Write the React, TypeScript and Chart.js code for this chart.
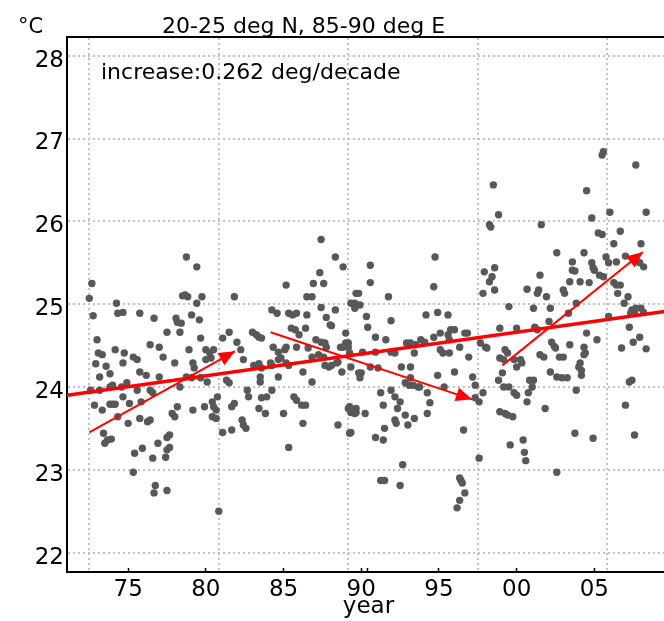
import React, { useEffect, useRef } from 'react';
import { Chart, registerables } from 'chart.js';
Chart.register(...registerables);

const FONT = "'DejaVu Sans'";
const UNIT_TEXT = '°C';
const TITLE_TEXT = '20-25 deg N, 85-90 deg E';
const TREND_TEXT = 'increase:0.262 deg/decade';
const X_TITLE = 'year';

// x axis in months since start of record; y in °C
const X_MIN = -17.2;
const X_MAX = 448.4;
const Y_MIN = 21.765;
const Y_MAX = 28.226;

const yearTickMonths = [30, 90, 150, 210, 215, 270, 330, 390];
const yearTickLabels = ['75', '80', '85', '90', '', '95', '00', '05'];
const gridMonths = [0, 100, 200, 300, 400];
const tempTicks = [22, 23, 24, 25, 26, 27, 28];

const trendMonths = [-17.2, 448.4];
const trendTemps = [23.9, 24.92];

const arrowStartMonths = [0, 140, 319];
const arrowStartTemps = [23.45, 24.66, 24.26];
const arrowEndMonths = [112.5, 295.5, 427.5];
const arrowEndTemps = [24.43, 23.85, 25.63];

// [month, °C]
const obsEarly: [number, number][] = [
  [2,25.25],[0,25.07],[3,24.86],[6,24.57],[7,24.41],[10,24.39],[5,24.28],[13,24.25],[8,24.12],[16,24.16],[1,23.96],[8,23.96],[16,24.0],[4,23.78],[10,23.72],[16,23.79],[18,23.79],[11,23.44],[14,23.36],[17,23.37],[12,23.32],
  [21,25.01],[22,24.89],[26,24.9],[20,24.45],[27,24.41],[26,24.29],[18,24.02],[25,24.0],[29,24.05],[20,23.79],[26,23.88],[31,23.8],[22,23.64],[30,23.56],
  [39,24.89],[34,24.36],[37,24.33],[39,24.18],[44,24.14],[37,23.96],[40,23.82],[39,23.62],[45,23.58],[35,23.2],[41,23.26],[34,22.97],
  [50,24.83],[47,24.51],[47,23.96],[49,23.93],[47,23.6],[49,23.14],[53,23.32],[51,22.81],[50,22.72],[60,22.75],[54,24.48],[57,24.36],[54,24.12],[60,24.66],[66,24.29],[68,23.76],[64,23.68],[66,23.64],[60,23.39],[62,23.42],[62,23.27],[60,23.24],[59,23.15],
  [67,24.83],[68,24.78],[70,24.66],[71,24.77],[75,25.57],[83,25.45],[72,25.1],[74,25.11],[76,25.09],[83,25.01],[79,24.87],[85,24.81],[86,24.59],[77,24.45],[80,24.29],[81,24.23],[75,24.12],[70,24.0],[79,24.11],[86,24.11],
  [87,25.09],[90,24.45],[93,24.41],[90,24.33],[94,24.35],[91,24.06],[89,23.76],[80,23.72],[95,23.82],[96,23.76],[98,23.72],[95,23.64],[98,23.62],[99,23.88],[96,24.45],[103,24.59],[108,24.66],[103,23.45],[110,23.48],[106,24.08],[108,24.05],
  [112,25.09],[114,24.54],[117,24.45],[119,24.33],[112,23.8],[110,23.76],[118,23.6],[119,23.54],[121,23.5],[122,23.96],[123,23.88],[100,22.5],
  [126,24.66],[129,24.63],[131,24.6],[133,24.59],[127,24.26],[129,24.26],[131,24.28],[133,24.23],[132,24.12],[132,24.06],[133,23.87],[137,23.88],[131,23.74],[136,23.68],
  [141,24.93],[145,24.89],[142,24.48],[146,24.42],[140,24.29],[141,24.26],[141,23.96],[146,24.12],
  [152,25.23],[154,24.89],[157,24.87],[160,24.89],[156,24.71],[159,24.69],[162,24.63],[152,24.48],[151,24.45],[148,24.35],[146,24.33],[152,24.29],[154,24.26],[150,23.68],[158,23.88],[160,23.84],[160,24.48],[154,23.27],
  [164,23.78],[167,23.78],[165,23.56],[168,25.09],[172,25.09],[173,25.25],[181,25.25],[178,25.38],[168,24.87],[167,24.71],[169,24.47],[172,24.36],[165,24.18],[172,24.06],[175,24.57],[179,24.54],[182,24.53],[183,24.48],[177,24.39],[181,24.36],[179,24.96],[183,24.84],[186,24.75],[187,24.74],[182,24.26],[185,24.24],[187,24.26],[179,25.78],
  [190,24.93],[190,25.57],[196,25.45],[194,24.48],[196,24.48],[198,24.53],[192,24.3],[191,24.29],[195,24.18],[192,23.54],[198,24.65],[200,24.53],[202,23.45],[201,23.76],[204,23.72],[206,23.69],[205,25.01],[205,24.95],[206,25.13],[208,24.17],
];

const obsLate: [number, number][] = [
  [397,26.84],[396,26.8],[422,26.68],[384,26.37],[312,26.44],[316,26.08],[309,25.96],[310,25.93],[349,25.96],[402,26.11],[430,26.11],[388,26.04],[393,25.86],[396,25.84],[410,25.88],[405,25.73],[426,25.73],
  [267,25.57],[361,25.62],[382,25.62],[399,25.57],[401,25.5],[414,25.58],[407,25.51],[373,25.51],[388,25.5],[389,25.44],[390,25.41],[217,25.47],[425,25.5],[428,25.45],
  [305,25.39],[313,25.44],[311,25.33],[309,25.27],[313,25.17],[304,25.13],[348,25.35],[373,25.41],[375,25.4],[394,25.35],[397,25.33],[217,25.26],[266,25.21],[379,25.27],[386,25.26],
  [338,25.18],[347,25.17],[346,25.13],[353,25.09],[366,25.17],[367,25.13],[371,25.27],[405,25.26],[407,25.23],[410,25.23],[408,25.13],[416,25.09],[413,25.01],[419,24.93],[422,24.95],[426,24.95],[428,24.9],[421,24.89],
  [208,25.13],[202,25.01],[209,24.99],[231,25.09],[324,24.97],[343,24.95],[356,24.95],[370,24.89],[376,25.01],[355,24.79],[344,24.72],[346,24.69],[357,24.54],[359,24.49],[360,24.47],[384,24.65],[392,24.57],[417,24.72],[418,24.89],[425,24.6],[420,24.54],[430,24.46],[411,24.47],[401,24.85],
  [214,24.85],[215,24.72],[233,24.8],[260,24.87],[269,24.9],[277,24.87],[317,24.71],[330,24.71],
  [221,24.6],[229,24.57],[245,24.53],[248,24.53],[252,24.51],[256,24.57],[259,24.54],[266,24.6],[271,24.65],[277,24.63],[279,24.69],[282,24.69],[290,24.65],[292,24.65],[278,24.57],[271,24.45],[273,24.41],[278,24.41],[286,24.48],[293,24.36],[302,24.53],[306,24.48],[307,24.47],[321,24.45],[323,24.41],
  [200,24.48],[201,24.41],[211,24.42],[221,24.42],[233,24.42],[236,24.41],[251,24.41],[348,24.39],[351,24.36],[363,24.36],[366,24.36],[371,24.51],[382,24.39],[317,24.35],[320,24.33],[328,24.33],[333,24.33],[334,24.29],[330,24.24],
  [202,24.24],[217,24.24],[223,24.23],[241,24.24],[248,24.24],[269,24.14],[282,24.18],[296,24.12],[298,24.02],[304,23.93],[210,24.17],[209,24.11],[225,23.93],[233,23.96],[236,23.88],[240,23.82],[244,24.05],[248,24.11],[250,24.02],[247,24.02],[254,24.0],[255,24.0],[261,23.93],[263,23.81],[274,24.0],
  [227,23.78],[238,23.74],[244,23.66],[246,23.54],[200,23.74],[202,23.69],[206,23.74],[205,23.68],[213,23.68],[236,23.6],[237,23.56],[251,23.62],[261,23.68],[201,23.44],[221,23.39],[227,23.36],[228,23.5],[242,23.06],[225,22.87],[228,22.87],[240,22.81],[286,22.9],[288,22.84],[287,22.87],[290,22.72],[289,23.48],[298,23.87],[301,23.82],[301,23.14],
  [316,24.08],[319,24.17],[317,23.7],[321,23.68],[323,23.66],[327,23.64],[325,23.3],[335,23.36],[336,23.21],[337,23.11],[338,23.82],[339,23.93],[342,24.0],[340,24.08],[343,24.08],[328,23.93],[330,23.9],[320,24.0],[324,24.0],[352,23.74],[361,24.12],[365,24.11],[369,24.11],[356,24.18],[379,24.29],[378,24.24],[380,24.2],[382,24.48],[383,24.41],[376,23.96],[380,24.14],[375,23.44],[389,23.38],[361,22.97],[419,24.08],[417,24.06],[421,23.42],[414,23.78],[284,22.54],[286,22.63],
];

const textPlugin = {
  id: 'texts',
  afterDraw(chart: any) {
    const ctx = chart.ctx;
    ctx.save();
    ctx.fillStyle = '#000';
    ctx.textBaseline = 'alphabetic';
    ctx.textAlign = 'left';
    ctx.font = `21px ${FONT}`;
    ctx.fillText(UNIT_TEXT, 18, 33);
    ctx.font = `22px ${FONT}`;
    ctx.fillText(TITLE_TEXT, 162, 33);
    ctx.fillText(TREND_TEXT, 101, 79);
    ctx.restore();
  },
};

const arrowHeadPlugin = {
  id: 'arrowHeads',
  afterDatasetsDraw(chart: any) {
    const { ctx, scales } = chart;
    const xs = scales.x, ys = scales.y;
    ctx.save();
    ctx.fillStyle = '#ff0000';
    const L = 16, W = 7;
    for (let i = 0; i < arrowStartMonths.length; i++) {
      const x0 = xs.getPixelForValue(arrowStartMonths[i]);
      const y0 = ys.getPixelForValue(arrowStartTemps[i]);
      const x1 = xs.getPixelForValue(arrowEndMonths[i]);
      const y1 = ys.getPixelForValue(arrowEndTemps[i]);
      const a = Math.atan2(y1 - y0, x1 - x0);
      const c = Math.cos(a), s = Math.sin(a);
      ctx.beginPath();
      ctx.moveTo(x1, y1);
      ctx.lineTo(x1 - L * c + W * s, y1 - L * s - W * c);
      ctx.lineTo(x1 - L * c - W * s, y1 - L * s + W * c);
      ctx.closePath();
      ctx.fill();
    }
    ctx.restore();
  },
};

export default function App() {
  const ref = useRef<HTMLCanvasElement>(null);
  useEffect(() => {
    const canvas = ref.current;
    if (!canvas) return;
    const toXY = (arr: [number, number][]) => arr.map(([m, t]) => ({ x: m, y: t }));
    const points = [...toXY(obsEarly), ...toXY(obsLate)];
    const gridColor = '#c2c2c2';
    const chart = new Chart(canvas, {
      type: 'scatter',
      data: {
        datasets: [
          {
            label: 'monthly',
            data: points,
            backgroundColor: '#585858',
            borderWidth: 0,
            pointRadius: 3.7,
            order: 3,
          } as any,
          {
            label: 'trend',
            data: trendMonths.map((m, i) => ({ x: m, y: trendTemps[i] })),
            showLine: true,
            borderColor: '#ff0000',
            borderWidth: 3.5,
            pointRadius: 0,
            order: 2,
          } as any,
          ...arrowStartMonths.map((m, i) => ({
            label: 'arrow' + i,
            data: [
              { x: m, y: arrowStartTemps[i] },
              { x: arrowEndMonths[i], y: arrowEndTemps[i] },
            ],
            showLine: true,
            borderColor: '#ff0000',
            borderWidth: 2,
            pointRadius: 0,
            order: 1,
          } as any)),
        ],
      },
      options: {
        animation: false,
        responsive: false,
        devicePixelRatio: 1,
        layout: { padding: { top: 37, left: 0, right: 0, bottom: 0 } },
        plugins: { legend: { display: false }, tooltip: { enabled: false }, title: { display: false } },
        scales: {
          x: {
            type: 'linear',
            position: 'bottom',
            min: X_MIN,
            max: X_MAX,
            afterBuildTicks: (s: any) => { s.ticks = yearTickMonths.map((v) => ({ value: v })); },
            afterFit: (s: any) => { s.height = 49; },
            ticks: {
              autoSkip: false,
              maxRotation: 0,
              padding: 8,
              color: '#000',
              font: { family: FONT, size: 23 },
              callback: (_v: any, i: number) => yearTickLabels[i],
            },
            grid: { display: true, drawOnChartArea: false, drawTicks: true, tickLength: -4, tickColor: '#000', tickWidth: 1.5 },
            border: { display: true, color: '#000', width: 2 },
            title: { display: true, text: X_TITLE, color: '#000', font: { family: FONT, size: 23 }, padding: { top: 0, bottom: 0 } },
          },
          x2: {
            type: 'linear',
            position: 'top',
            min: X_MIN,
            max: X_MAX,
            afterBuildTicks: (s: any) => { s.ticks = gridMonths.map((v) => ({ value: v })); },
            afterFit: (s: any) => { s.height = 0; },
            ticks: { display: false },
            grid: { display: true, drawOnChartArea: true, drawTicks: false, color: gridColor, lineWidth: 2 },
            border: { display: true, color: '#000', width: 2, dash: [2, 3] },
          },
          y: {
            type: 'linear',
            min: Y_MIN,
            max: Y_MAX,
            afterBuildTicks: (s: any) => { s.ticks = tempTicks.map((v) => ({ value: v })); },
            afterFit: (s: any) => { s.width = 67; },
            ticks: {
              padding: 3,
              labelOffset: 5,
              color: '#000',
              font: { family: FONT, size: 23 },
              callback: (v: any) => String(v),
            },
            grid: { display: true, drawOnChartArea: true, drawTicks: false, color: gridColor, lineWidth: 2 },
            border: { display: true, color: '#000', width: 2, dash: [2, 3] },
          },
        },
      } as any,
      plugins: [textPlugin, arrowHeadPlugin],
    });
    return () => chart.destroy();
  }, []);
  return (
    <div style={{ position: 'absolute', left: 0, top: 0, width: 664, height: 621, overflow: 'hidden', background: '#fff' }}>
      <canvas ref={ref} width={674} height={621} style={{ display: 'block' }} />
    </div>
  );
}
